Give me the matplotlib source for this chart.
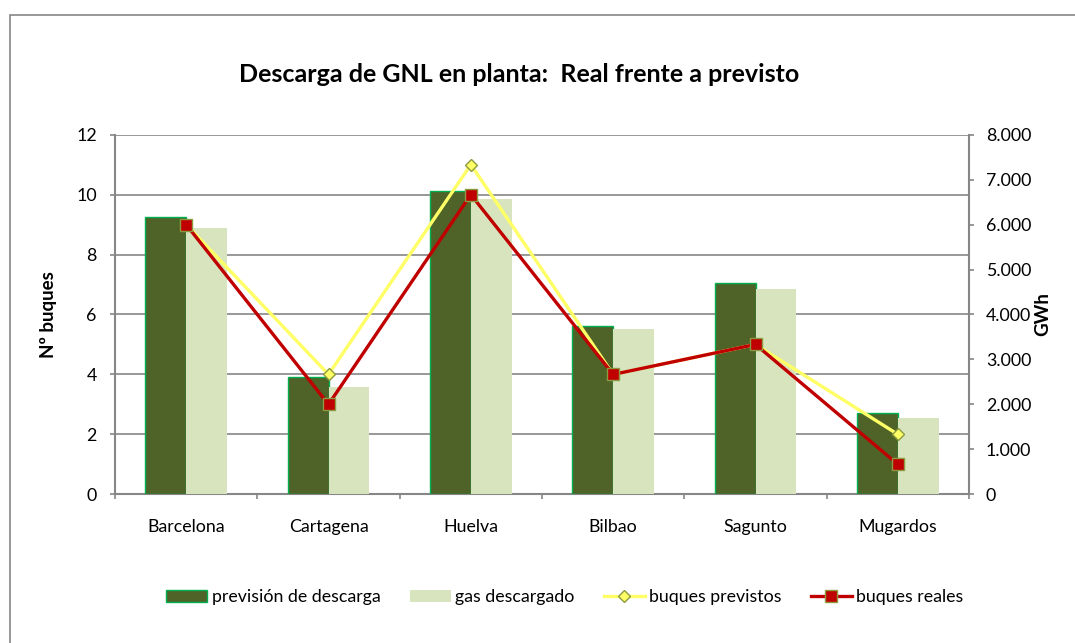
import numpy as np
import matplotlib
matplotlib.use("Agg")
import matplotlib.pyplot as plt
from matplotlib.patches import Rectangle, Patch
from matplotlib.lines import Line2D
from matplotlib.ticker import FuncFormatter

plt.rcParams['font.family'] = ['Lato', 'DejaVu Sans']

plantas = ['Barcelona', 'Cartagena', 'Huelva', 'Bilbao', 'Sagunto', 'Mugardos']
prevision_gwh = [6170, 2600, 6750, 3750, 4690, 1815]
descargado_gwh = [5915, 2390, 6560, 3670, 4570, 1705]
buques_previstos = [9, 4, 11, 4, 5, 2]
buques_reales = [9, 3, 10, 4, 5, 1]

dark = '#4f6228'
light = '#d7e4bd'
edge = '#00b050'
grey = '#868686'
yellow = '#ffff66'
red = '#c00000'
fs = 12.8

fig = plt.figure(figsize=(10.75, 6.43), dpi=100)
# outer chart border (cut at right and bottom like the original)
fig.patches.append(Rectangle((10 / 1075, -0.1), 1.2, 1 - 15 / 643 + 0.1,
                             transform=fig.transFigure, fill=False,
                             edgecolor=grey, linewidth=1.2))

ax = fig.add_axes([115 / 1075, 1 - 494.3 / 643, 854 / 1075, 359.6 / 643])
ax2 = ax.twinx()
ax3 = ax.twinx()

x = np.arange(len(plantas))
w = 0.288

# left axis: grid + ticks
ax.set_xlim(-0.5, len(plantas) - 0.5)
ax.set_ylim(0, 12)
ax.set_yticks(range(0, 13, 2))
ax.yaxis.grid(True, color=grey, linewidth=1.2)
ax.set_axisbelow(True)
ax.set_xticks(x)
ax.set_xticklabels(plantas, fontsize=fs)
ax.set_xticks(np.arange(-0.5, len(plantas)), minor=True)
ax.tick_params(axis='x', which='major', length=0, pad=18)
ax.tick_params(axis='x', which='minor', length=3.6, color=grey, width=1.2)
ax.tick_params(axis='y', length=3.6, color=grey, width=1.2, labelsize=fs, pad=9.5)
for s in ['top', 'right']:
    ax.spines[s].set_visible(False)
for s in ['left', 'bottom']:
    ax.spines[s].set_color(grey)
    ax.spines[s].set_linewidth(1.5)
ax.set_ylabel('Nº buques', fontsize=13.5, fontweight='bold', labelpad=14)

# right axis: bars in GWh
ax2.bar(x - w / 2, prevision_gwh, w, color=dark, edgecolor=edge, linewidth=1)
ax2.bar(x + w / 2, descargado_gwh, w, color=light, edgecolor='none')
ax2.set_ylim(0, 8000)
ax2.set_yticks(range(0, 8001, 1000))
ax2.yaxis.set_major_formatter(FuncFormatter(lambda v, p: f'{int(v):,}'.replace(',', '.')))
ax2.tick_params(axis='y', length=3.6, color=grey, width=1.2, labelsize=fs, pad=8.5)
for s in ['top', 'left', 'bottom']:
    ax2.spines[s].set_visible(False)
ax2.spines['right'].set_color(grey)
ax2.spines['right'].set_linewidth(1.5)
ax2.set_ylabel('GWh', fontsize=13.5, fontweight='bold', labelpad=2)

# lines on top, on the buques scale
ax3.set_ylim(0, 12)
ax3.plot(x, buques_previstos, color=yellow, linewidth=2.4, marker='D',
         markersize=6.5, markerfacecolor=yellow, markeredgecolor='#8c9b40',
         markeredgewidth=1)
ax3.plot(x, buques_reales, color=red, linewidth=2.4, marker='s',
         markersize=9, markerfacecolor=red, markeredgecolor='#8c9b40',
         markeredgewidth=1)
ax3.set_yticks([])
for s in ax3.spines.values():
    s.set_visible(False)

fig.text(519 / 1075, 1 - 74 / 643, 'Descarga de GNL en planta:  Real frente a previsto',
         fontsize=18, fontweight='bold', ha='center', va='center')

handles = [
    Patch(facecolor=dark, edgecolor=edge, linewidth=1),
    Patch(facecolor=light, edgecolor='none'),
    Line2D([], [], color=yellow, linewidth=2.4, marker='D', markersize=6.5,
           markerfacecolor=yellow, markeredgecolor='#8c9b40'),
    Line2D([], [], color=red, linewidth=2.4, marker='s', markersize=9,
           markerfacecolor=red, markeredgecolor='#8c9b40'),
]
labels = ['previsión de descarga', 'gas descargado', 'buques previstos', 'buques reales']
fig.legend(handles, labels, loc='center', bbox_to_anchor=(565 / 1075, 1 - 597 / 643),
           ncol=4, frameon=False, fontsize=fs, handlelength=2.3, handletextpad=0.25,
           columnspacing=1.65)

fig.savefig('out.png', dpi=100)
